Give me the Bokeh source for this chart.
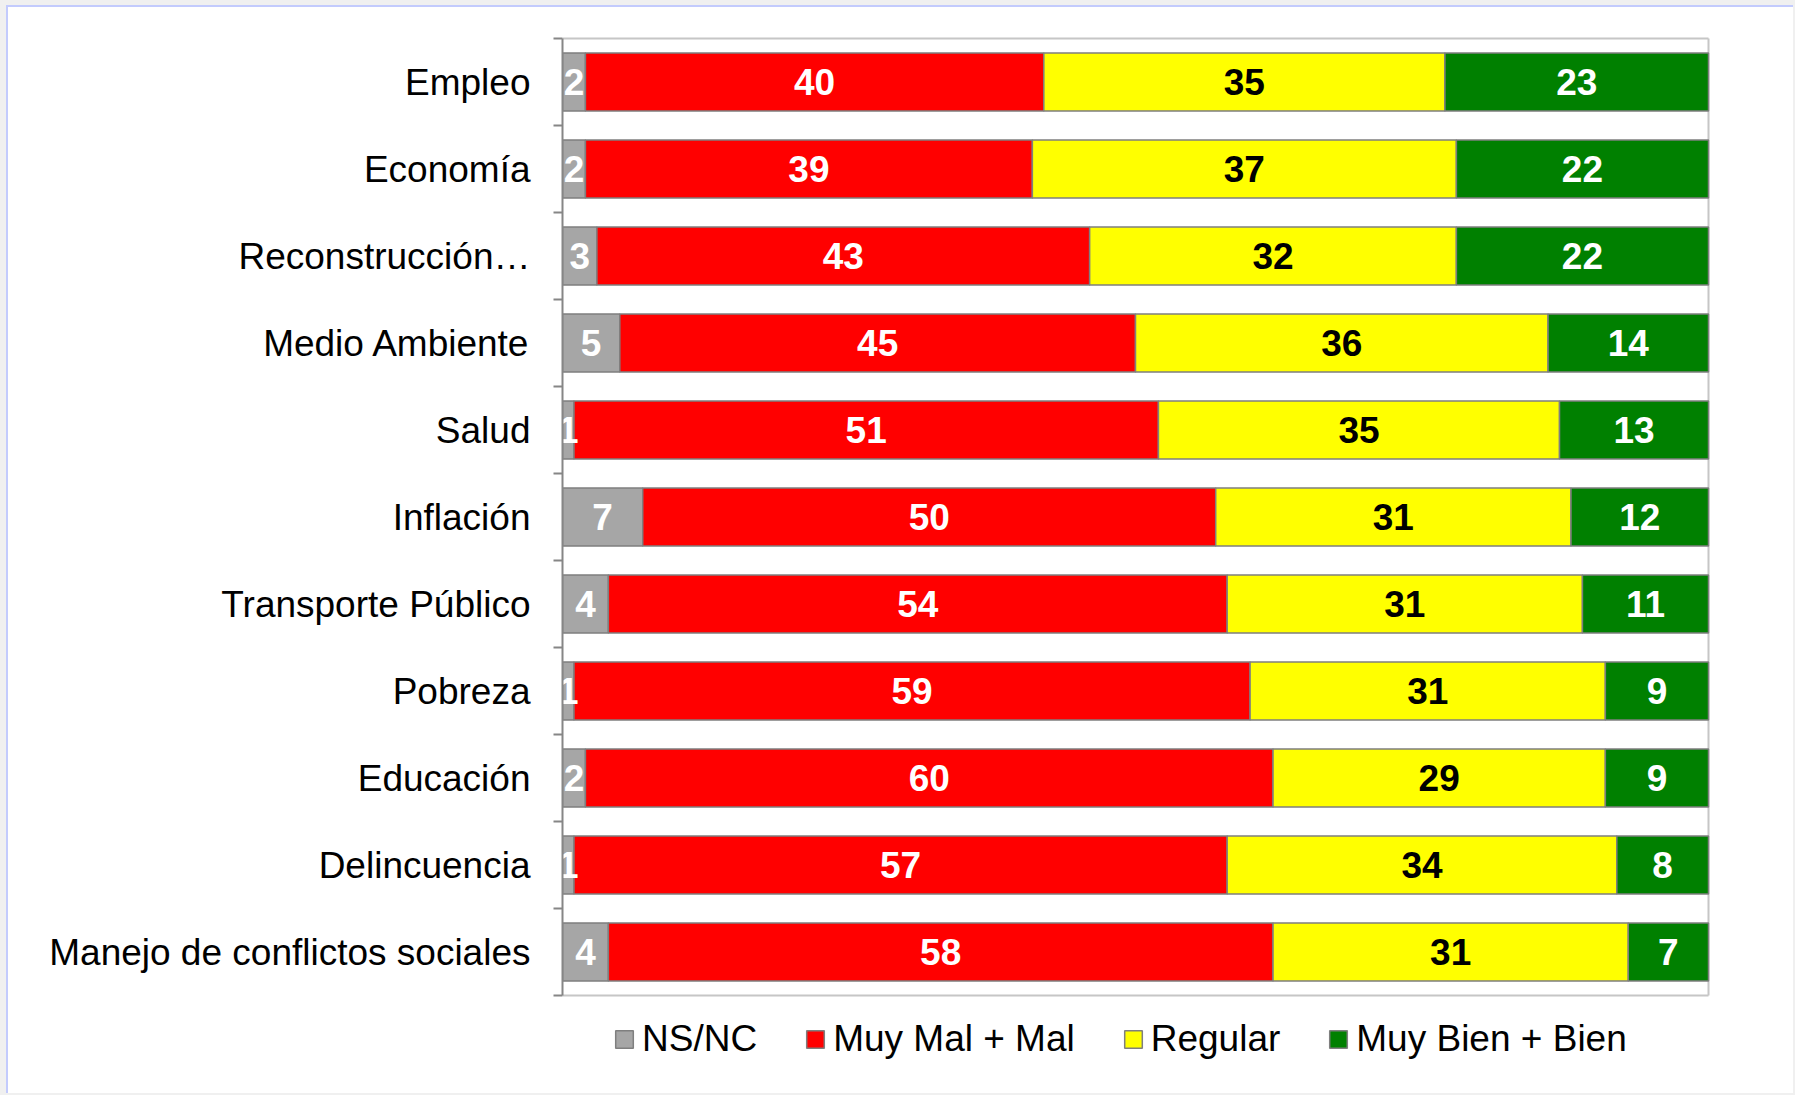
from bokeh.plotting import figure
from bokeh.models import (ColumnDataSource, Range1d, FixedTicker, Legend, LegendItem,
                          GlobalInlineStyleSheet)
from bokeh.core.properties import value
from bokeh.embed import file_html
from bokeh.resources import INLINE

# ---------------- data ----------------
categories = ["Empleo", "Economía", "Reconstrucción…", "Medio Ambiente", "Salud",
              "Inflación", "Transporte Público", "Pobreza", "Educación",
              "Delincuencia", "Manejo de conflictos sociales"]
ns_nc = [2, 2, 3, 5, 1, 7, 4, 1, 2, 1, 4]
muy_mal_mal = [40, 39, 43, 45, 51, 50, 54, 59, 60, 57, 58]
regular = [35, 37, 32, 36, 35, 31, 31, 31, 29, 34, 31]
muy_bien_bien = [23, 22, 22, 14, 13, 12, 11, 9, 9, 8, 7]
series_names = ["NS/NC", "Muy Mal + Mal", "Regular", "Muy Bien + Bien"]

# ---------------- styles ----------------
colors = ["#a6a6a6", "#ff0000", "#ffff00", "#008000"]
label_colors = ["white", "white", "black", "white"]
FONT = "Liberation Sans"

series = [ns_nc, muy_mal_mal, regular, muy_bien_bien]
n = len(categories)
ypos = [n - 0.5 - i for i in range(n)]

# frame: 1148 px wide for 0..100(+2px), 87 px per row
X_END = 100 + 2 / 11.46
Y_TOP = n + 2 / 87
FRAME_H = 1078 - 29
Y_BOT = Y_TOP - FRAME_H / 87

p = figure(width=1787, height=1088, output_backend="svg", toolbar_location=None,
           x_range=Range1d(0, X_END), y_range=Range1d(Y_BOT, Y_TOP),
           min_border_left=554, min_border_right=85, min_border_top=29,
           min_border_bottom=10)
p.stylesheets = [GlobalInlineStyleSheet(css="body{margin:5px 0 0 6px !important;background:#f0f0f0 !important;}")]
p.styles = {"border-top": "2px solid #c3cbfd", "border-left": "2px solid #c3cbfd",
            "background": "white"}
p.background_fill_color = "white"
p.border_fill_color = "white"
p.outline_line_color = None
p.xgrid.visible = False
p.ygrid.visible = False
p.xaxis.visible = False

# plot-area border (top, right, bottom)
p.multi_line(xs=[[0, 100], [100, 100], [0, 100]], ys=[[n, n], [0, n], [0, 0]],
             line_color="#c6c6c6", line_width=2)

yaxis = p.yaxis[0]
yaxis.bounds = (0, n)
yaxis.ticker = FixedTicker(ticks=ypos, minor_ticks=list(range(n + 1)))
yaxis.major_label_overrides = {y: c for y, c in zip(ypos, categories)}
yaxis.major_label_text_font = FONT
yaxis.major_label_text_font_size = "37px"
yaxis.major_label_text_color = "black"
yaxis.major_label_standoff = 23
yaxis.major_tick_line_color = None
yaxis.major_tick_out = 0
yaxis.major_tick_in = 0
yaxis.minor_tick_line_color = "#868686"
yaxis.minor_tick_line_width = 2
yaxis.minor_tick_out = 9
yaxis.minor_tick_in = 0
yaxis.axis_line_color = "#868686"
yaxis.axis_line_width = 2

items = []
left = [0] * n
lx, ly, lt, lc = [], [], [], []
for name, vals, col, tcol in zip(series_names, series, colors, label_colors):
    right = [a + b for a, b in zip(left, vals)]
    src = ColumnDataSource(dict(y=ypos, left=left, right=right))
    r = p.hbar(y="y", left="left", right="right", height=0.667, source=src,
               fill_color=col, line_color="#7f7f7f", line_width=1.5)
    items.append(LegendItem(label=name, renderers=[r]))
    for y, l, v in zip(ypos, left, vals):
        lx.append(l + v / 2)
        ly.append(y)
        lt.append(str(v))
        lc.append(tcol)
    left = right

tsrc = ColumnDataSource(dict(x=lx, y=ly, t=lt, c=lc))
p.text(x="x", y="y", text="t", text_color="c", source=tsrc,
       text_font=value(FONT), text_font_style="bold", text_font_size="37px",
       text_align="center", text_baseline="middle")

legend = Legend(items=items, orientation="horizontal", location=(51, 25),
                label_text_font=FONT, label_text_font_size="37px",
                label_text_color="black", glyph_width=22, glyph_height=22,
                label_standoff=7, spacing=47, border_line_color=None,
                background_fill_alpha=0, padding=6, margin=0)
p.add_layout(legend, "center")

open("out.html", "w").write(file_html(p, INLINE))
